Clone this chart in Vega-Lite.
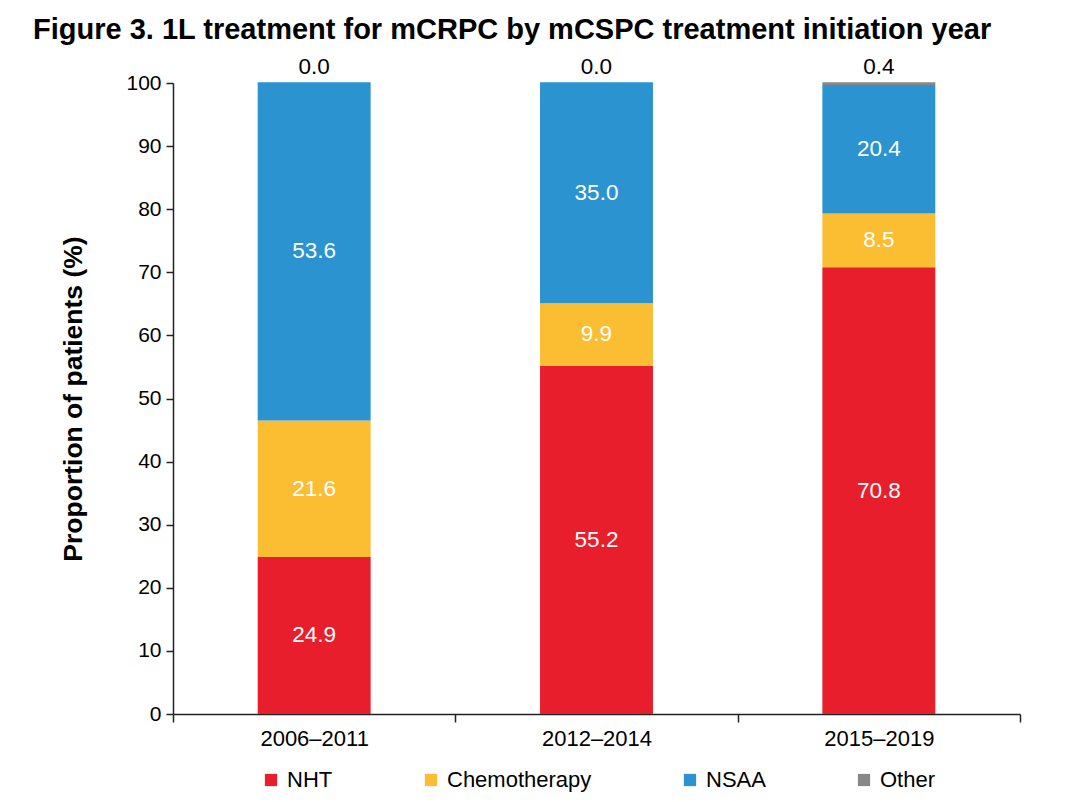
{
  "$schema": "https://vega.github.io/schema/vega-lite/v6.json",
  "width": 847,
  "height": 631,
  "autosize": "none",
  "padding": {"left": 173, "top": 83, "right": 46, "bottom": 88},
  "background": "white",
  "config": {
    "font": "Liberation Sans",
    "view": {"stroke": null},
    "axis": {"labelColor": "black", "domainColor": "#222", "tickColor": "#222", "domainWidth": 1.5, "tickWidth": 1.5, "grid": false}
  },
  "title": {
    "text": "Figure 3. 1L treatment for mCRPC by mCSPC treatment initiation year",
    "anchor": "start",
    "frame": "group",
    "dx": -140,
    "offset": 11,
    "font": "Liberation Sans",
    "fontSize": 29,
    "fontWeight": "bold",
    "color": "black"
  },
  "data": {
    "values": [
      {"year": "2006–2011", "treatment": "NHT", "pct": 24.9},
      {"year": "2006–2011", "treatment": "Chemotherapy", "pct": 21.6},
      {"year": "2006–2011", "treatment": "NSAA", "pct": 53.6},
      {"year": "2006–2011", "treatment": "Other", "pct": 0.0},
      {"year": "2012–2014", "treatment": "NHT", "pct": 55.2},
      {"year": "2012–2014", "treatment": "Chemotherapy", "pct": 9.9},
      {"year": "2012–2014", "treatment": "NSAA", "pct": 35.0},
      {"year": "2012–2014", "treatment": "Other", "pct": 0.0},
      {"year": "2015–2019", "treatment": "NHT", "pct": 70.8},
      {"year": "2015–2019", "treatment": "Chemotherapy", "pct": 8.5},
      {"year": "2015–2019", "treatment": "NSAA", "pct": 20.4},
      {"year": "2015–2019", "treatment": "Other", "pct": 0.4}
    ]
  },
  "transform": [
    {"stack": "pct", "groupby": ["year"], "as": ["y0", "y1"]}
  ],
  "layer": [
    {
      "mark": {"type": "bar", "width": {"band": 0.4}},
      "encoding": {
        "x": {
          "field": "year", "type": "nominal", "sort": null,
          "scale": {"paddingInner": 0, "paddingOuter": 0},
          "axis": {"title": null, "labelAngle": 0, "tickBand": "extent", "tickSize": 8, "labelFontSize": 22, "labelPadding": 6}
        },
        "y": {
          "field": "y1", "type": "quantitative",
          "scale": {"domain": [0, 100], "nice": false},
          "axis": {"title": "Proportion of patients (%)", "values": [0,10,20,30,40,50,60,70,80,90,100], "tickSize": 7, "labelFontSize": 21, "labelPadding": 5, "titleFontSize": 26.5, "titleFontWeight": "bold", "titleColor": "black", "titlePadding": 38}
        },
        "y2": {"field": "y0"},
        "color": {
          "field": "treatment", "type": "nominal",
          "scale": {"domain": ["NHT", "Chemotherapy", "NSAA", "Other"], "range": ["#E81E2C", "#FBBE33", "#2B93CF", "#888888"]},
          "legend": {"title": null, "orient": "none", "direction": "horizontal", "columns": 4, "legendX": 87, "legendY": 686, "columnPadding": 87, "symbolType": "square", "symbolSize": 150, "symbolStrokeWidth": 0, "labelFontSize": 22, "labelColor": "black", "labelOffset": 5}
        }
      }
    },
    {
      "transform": [
        {"filter": "datum.treatment !== 'Other'"},
        {"fold": ["y0", "y1"], "as": ["k", "v"]}
      ],
      "mark": {"type": "text", "color": "white", "fontSize": 22.5, "baseline": "middle"},
      "encoding": {
        "x": {"field": "year", "type": "nominal", "sort": null},
        "y": {"aggregate": "mean", "field": "v", "type": "quantitative", "title": "Proportion of patients (%)"},
        "detail": {"field": "treatment"},
        "text": {"field": "pct", "type": "quantitative", "format": ".1f"}
      }
    },
    {
      "transform": [{"filter": "datum.treatment === 'Other'"}],
      "mark": {"type": "text", "color": "black", "fontSize": 22.5, "baseline": "bottom", "dy": -3},
      "encoding": {
        "x": {"field": "year", "type": "nominal", "sort": null},
        "y": {"field": "y1", "type": "quantitative", "title": "Proportion of patients (%)"},
        "text": {"field": "pct", "type": "quantitative", "format": ".1f"}
      }
    }
  ]
}
